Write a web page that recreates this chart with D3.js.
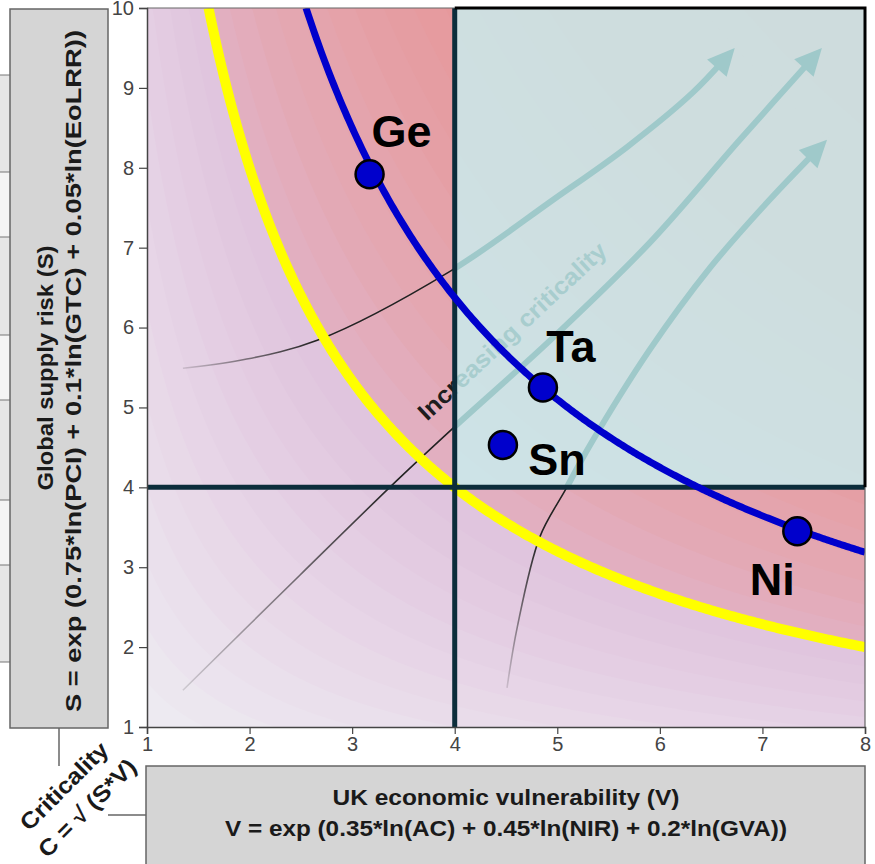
<!DOCTYPE html>
<html>
<head>
<meta charset="utf-8">
<script src="https://cdn.jsdelivr.net/npm/d3@7"></script>
<style>
  html, body { margin: 0; padding: 0; background: #ffffff; }
  svg { display: block; font-family: "Liberation Sans", Arial, sans-serif; }
</style>
</head>
<body>
<svg id="chart" width="875" height="864"></svg>
<script>
// ---------------- data ----------------
const vTicks = [1, 2, 3, 4, 5, 6, 7, 8];
const sTicks = [1, 2, 3, 4, 5, 6, 7, 8, 9, 10];

const elements = ["Ge", "Ta", "Sn", "Ni"];
const elementV = [3.17, 4.86, 4.47, 7.34];
const elementS = [7.92, 5.25, 4.53, 3.45];

const thresholdV = 4;
const thresholdS = 4;

// iso-criticality lines C = sqrt(S*V)
const isoNames = ["threshold", "elements"];
const isoC = [4.0, 5.05];

// illustrative "increasing criticality" arrows (V, S)
const arrow1V = [1.35, 1.91, 2.66, 3.95, 4.96, 5.68, 6.32, 6.73];
const arrow1S = [5.49, 5.59, 5.84, 6.70, 7.60, 8.26, 8.94, 9.50];
const arrow2V = [1.35, 2.49, 3.44, 4.00, 4.93, 5.90, 6.78, 7.58];
const arrow2S = [1.46, 2.90, 4.09, 4.76, 5.84, 7.06, 8.35, 9.50];
const arrow3V = [4.51, 4.61, 4.83, 5.08, 5.32, 5.90, 6.49, 7.07, 7.63];
const arrow3S = [1.49, 2.25, 3.38, 3.97, 4.53, 5.72, 6.75, 7.60, 8.35];

const xTitle1 = "UK economic vulnerability (V)";
const xTitle2 = "V = exp (0.35*ln(AC) + 0.45*ln(NIR) + 0.2*ln(GVA))";
const yTitle1 = "Global supply risk (S)";
const yTitle2 = "S = exp (0.75*ln(PCI) + 0.1*ln(GTC) + 0.05*ln(EoLRR))";
const cTitle1 = "Criticality";
const cTitle2 = "C = \u221A (S*V)";
const arrowText = "Increasing criticality";

// ---------------- layout / style ----------------
const svg = d3.select("#chart");
const x = d3.scaleLinear().domain([1, 8]).range([147, 865]);
const y = d3.scaleLinear().domain([1, 10]).range([727, 8]);
const [X0, X1] = x.range();
const [Y0, Y1] = [y(10), y(1)];

const bandColor = d3.scaleLinear()
  .domain([1, 2, 3, 3.999, 4.0, 4.5, 5.5, 7, 9])
  .range(["#edeaf1", "#e9dcea", "#e4cee3", "#dfc2dc", "#e2afc0", "#e3a9b5", "#e59fa5", "#e79293", "#e88989"])
  .interpolate(d3.interpolateRgb);

const defs = svg.append("defs");
defs.append("clipPath").attr("id", "plotClip")
  .append("rect").attr("x", X0).attr("y", Y0).attr("width", X1 - X0).attr("height", Y1 - Y0);
defs.append("clipPath").attr("id", "tealClip")
  .append("rect").attr("x", x(thresholdV)).attr("y", y(10))
  .attr("width", x(8) - x(thresholdV)).attr("height", y(thresholdS) - y(10));
defs.append("clipPath").attr("id", "outClip")
  .append("path").attr("clip-rule", "evenodd")
  .attr("d", `M${X0},${Y0}H${X1}V${Y1}H${X0}Z M${x(thresholdV)},${y(10)}H${x(8)}V${y(thresholdS)}H${x(thresholdV)}Z`);

// ---------------- left decoration strip ----------------
const stripEdges = [75, 172, 237, 335, 400, 500, 565, 662];
for (let i = 0; i < stripEdges.length - 1; i++) {
  svg.append("rect").attr("x", 0).attr("y", stripEdges[i]).attr("width", 10)
    .attr("height", stripEdges[i + 1] - stripEdges[i])
    .attr("fill", i % 2 === 0 ? "#e6e6e6" : "#f4f4f4");
}
stripEdges.forEach(e => svg.append("line").attr("x1", 0).attr("x2", 10).attr("y1", e).attr("y2", e)
  .attr("stroke", "#777").attr("stroke-width", 1));

// ---------------- title boxes ----------------
svg.append("rect").attr("x", 10).attr("y", 9).attr("width", 98).attr("height", 719)
  .attr("fill", "#d5d5d5").attr("stroke", "#666").attr("stroke-width", 1.5);
svg.append("rect").attr("x", 146).attr("y", 766).attr("width", 719).attr("height", 110)
  .attr("fill", "#d5d5d5").attr("stroke", "#666").attr("stroke-width", 1.5);
svg.append("line").attr("x1", 59).attr("x2", 59).attr("y1", 728).attr("y2", 766)
  .attr("stroke", "#666").attr("stroke-width", 1.5);
svg.append("line").attr("x1", 108).attr("x2", 146).attr("y1", 815).attr("y2", 815)
  .attr("stroke", "#666").attr("stroke-width", 1.5);

const titleStyle = sel => sel.attr("font-weight", "bold").attr("fill", "#1a1a1a")
  .attr("text-anchor", "middle").attr("dominant-baseline", "central");
svg.append("text").call(titleStyle).attr("font-size", 22)
  .attr("transform", "translate(45,368) rotate(-90)")
  .attr("textLength", 245).attr("lengthAdjust", "spacingAndGlyphs").text(yTitle1);
svg.append("text").call(titleStyle).attr("font-size", 22)
  .attr("transform", "translate(73,371) rotate(-90)")
  .attr("textLength", 682).attr("lengthAdjust", "spacingAndGlyphs").text(yTitle2);
svg.append("text").call(titleStyle).attr("font-size", 22)
  .attr("x", 506).attr("y", 797)
  .attr("textLength", 347).attr("lengthAdjust", "spacingAndGlyphs").text(xTitle1);
svg.append("text").call(titleStyle).attr("font-size", 22)
  .attr("x", 506).attr("y", 828)
  .attr("textLength", 562).attr("lengthAdjust", "spacingAndGlyphs").text(xTitle2);
svg.append("text").call(titleStyle).attr("font-size", 23)
  .attr("transform", "translate(64,786) rotate(-45)")
  .attr("textLength", 114).attr("lengthAdjust", "spacingAndGlyphs").text(cTitle1);
svg.append("text").call(titleStyle).attr("font-size", 23)
  .attr("transform", "translate(87,808) rotate(-45)")
  .attr("textLength", 128).attr("lengthAdjust", "spacingAndGlyphs").text(cTitle2);

// ---------------- background criticality bands ----------------
const plot = svg.append("g").attr("clip-path", "url(#plotClip)");
const vSamples = d3.range(0, 401).map(i => 1 + 7 * i / 400);
function regionAbove(c) {
  const pts = vSamples.map(v => [x(v), y(Math.max(1, Math.min(10, c * c / v)))]);
  pts.push([x(8), y(10)], [x(1), y(10)]);
  return "M" + pts.map(p => p.join(",")).join("L") + "Z";
}
const bandLevels = d3.range(0.5, 9.01, 0.25);
plot.selectAll("path.band").data(bandLevels).join("path")
  .attr("class", "band")
  .attr("d", c => regionAbove(c))
  .attr("fill", c => bandColor(Math.max(1, c)));

// teal quadrant overlay
plot.append("rect")
  .attr("x", x(thresholdV)).attr("y", y(10))
  .attr("width", x(8) - x(thresholdV)).attr("height", y(thresholdS) - y(10))
  .attr("fill", "#c8eeef").attr("fill-opacity", 0.82);

// ---------------- arrows ----------------
const arrowLine = d3.line().x(d => x(d[0])).y(d => y(d[1])).curve(d3.curveCatmullRom.alpha(0.5));
const arrows = [
  d3.zip(arrow1V, arrow1S),
  d3.zip(arrow2V, arrow2S),
  d3.zip(arrow3V, arrow3S)
];
const outG = plot.append("g").attr("clip-path", "url(#outClip)");
const inG = plot.append("g").attr("clip-path", "url(#tealClip)");
arrows.forEach((pts, i) => {
  const p0 = [x(pts[0][0]), y(pts[0][1])];
  const p1 = [x(pts[2][0]), y(pts[2][1])];
  const g = defs.append("linearGradient").attr("id", "fade" + i)
    .attr("gradientUnits", "userSpaceOnUse")
    .attr("x1", p0[0]).attr("y1", p0[1]).attr("x2", p1[0]).attr("y2", p1[1]);
  g.append("stop").attr("offset", 0).attr("stop-color", "#222").attr("stop-opacity", 0.15);
  g.append("stop").attr("offset", 1).attr("stop-color", "#222").attr("stop-opacity", 1);
  outG.append("path").attr("d", arrowLine(pts)).attr("fill", "none")
    .attr("stroke", `url(#fade${i})`).attr("stroke-width", 1.6);

  const shaft = inG.append("path").attr("d", arrowLine(pts)).attr("fill", "none")
    .attr("stroke", "#9fc9ca").attr("stroke-width", 6);
  const L = shaft.node().getTotalLength();
  shaft.attr("stroke-dasharray", `${L - 16} ${L + 20}`);
  const tip = shaft.node().getPointAtLength(L);
  const back = shaft.node().getPointAtLength(L - 6);
  const ang = Math.atan2(tip.y - back.y, tip.x - back.x);
  const len = 27, hw = 13;
  const bx = tip.x - len * Math.cos(ang), by = tip.y - len * Math.sin(ang);
  const nx = -Math.sin(ang), ny = Math.cos(ang);
  inG.append("path")
    .attr("d", `M${tip.x},${tip.y}L${bx + hw * nx},${by + hw * ny}L${bx - hw * nx},${by - hw * ny}Z`)
    .attr("fill", "#9fc9ca");
});

// "Increasing criticality" label
const labelTf = "translate(512,331) rotate(-43)";
[[outG, "#1e1e1e"], [inG, "#a8cdce"]].forEach(([grp, col]) => {
  grp.append("text").attr("transform", labelTf).attr("text-anchor", "middle")
    .attr("dominant-baseline", "central").attr("font-size", 24).attr("font-weight", "bold")
    .attr("textLength", 248).attr("lengthAdjust", "spacingAndGlyphs")
    .attr("fill", col).text(arrowText);
});

// ---------------- iso-criticality curves ----------------
function isoLine(c) {
  const vStart = Math.max(1, c * c / 10);
  const vs = d3.range(0, 301).map(i => vStart + (8 - vStart) * i / 300);
  return d3.line().x(v => x(v)).y(v => y(c * c / v))(vs);
}
plot.append("path").attr("d", isoLine(isoC[0])).attr("fill", "none")
  .attr("stroke", "#ffff00").attr("stroke-width", 10);

// threshold lines
plot.append("line").attr("x1", x(thresholdV)).attr("x2", x(thresholdV)).attr("y1", Y0).attr("y2", Y1)
  .attr("stroke", "#0c2d3b").attr("stroke-width", 5);
plot.append("line").attr("x1", X0).attr("x2", X1).attr("y1", y(thresholdS)).attr("y2", y(thresholdS))
  .attr("stroke", "#0c2d3b").attr("stroke-width", 5);

plot.append("path").attr("d", isoLine(isoC[1])).attr("fill", "none")
  .attr("stroke", "#0000cc").attr("stroke-width", 7);

// ---------------- axes & frame ----------------
svg.append("path")
  .attr("d", `M${X0},${Y0}H${x(thresholdV)} M${X1},${y(thresholdS)}V${Y1}`)
  .attr("fill", "none").attr("stroke", "#666").attr("stroke-width", 1.2);
svg.append("path")
  .attr("d", `M${x(thresholdV)},${Y0}H${X1}V${y(thresholdS)}`)
  .attr("fill", "none").attr("stroke", "#000").attr("stroke-width", 3);

const xAxis = svg.append("g").attr("transform", `translate(0,${Y1})`)
  .call(d3.axisBottom(x).tickValues(vTicks).tickFormat(d3.format("d")).tickSizeOuter(0).tickSize(7));
const yAxis = svg.append("g").attr("transform", `translate(${X0},0)`)
  .call(d3.axisLeft(y).tickValues(sTicks).tickFormat(d3.format("d")).tickSizeOuter(0).tickSize(8));
[xAxis, yAxis].forEach(a => {
  a.select(".domain").attr("stroke", "#444").attr("stroke-width", 1.5);
  a.selectAll(".tick line").attr("stroke", "#444").attr("stroke-width", 1.2);
  a.selectAll(".tick text").attr("fill", "#444").attr("font-size", 20)
    .attr("font-family", "Liberation Sans, Arial, sans-serif");
});
xAxis.selectAll(".tick text").attr("y", 10);
yAxis.selectAll(".tick text").attr("x", -13);

// ---------------- element points ----------------
const labelDX = [32, 28, 54, -25];
const labelDY = [-43, -41, 15, 48];
const pts = elements.map((e, i) => ({ name: e, v: elementV[i], s: elementS[i], dx: labelDX[i], dy: labelDY[i] }));
svg.selectAll("circle.el").data(pts).join("circle").attr("class", "el")
  .attr("cx", d => x(d.v)).attr("cy", d => y(d.s)).attr("r", 14)
  .attr("fill", "#0000cc").attr("stroke", "#000").attr("stroke-width", 2.5);
svg.selectAll("text.el").data(pts).join("text").attr("class", "el")
  .attr("x", d => x(d.v) + d.dx).attr("y", d => y(d.s) + d.dy)
  .attr("text-anchor", "middle").attr("dominant-baseline", "central")
  .attr("font-size", 45).attr("font-weight", "bold").attr("fill", "#000")
  .text(d => d.name);
</script>
</body>
</html>
